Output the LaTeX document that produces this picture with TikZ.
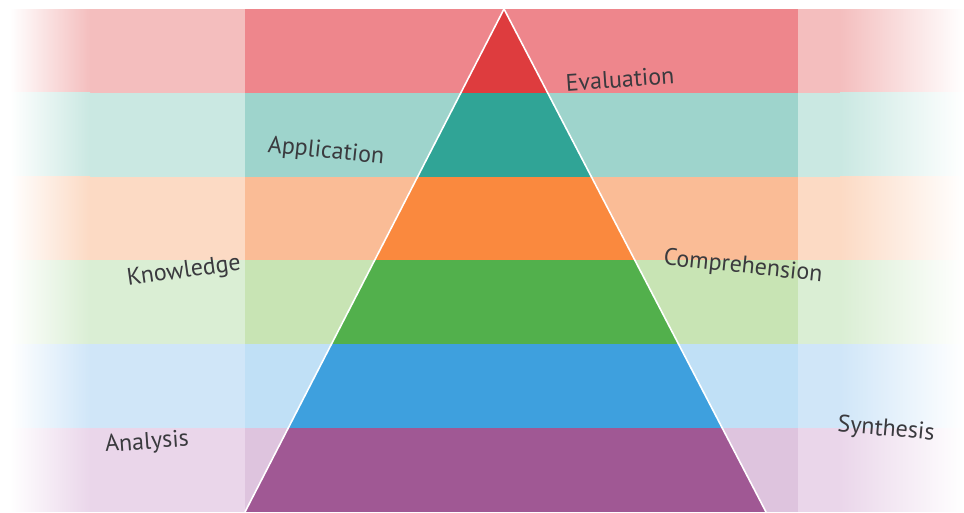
\documentclass[tikz,border=0pt]{standalone}
\usepackage{fontspec}
\setmainfont{PT Sans}

% strong / pale / outer shade of every band
\definecolor{evalstrong}{RGB}{222,60,62}
\definecolor{evalpale}{RGB}{238,134,140}
\definecolor{evalouter}{RGB}{244,190,190}
\definecolor{applstrong}{RGB}{48,164,150}
\definecolor{applpale}{RGB}{158,212,204}
\definecolor{applouter}{RGB}{202,232,226}
\definecolor{orngstrong}{RGB}{250,137,62}
\definecolor{orngpale}{RGB}{250,188,150}
\definecolor{orngouter}{RGB}{252,218,196}
\definecolor{grnstrong}{RGB}{82,176,76}
\definecolor{grnpale}{RGB}{200,228,180}
\definecolor{grnouter}{RGB}{218,238,212}
\definecolor{blustrong}{RGB}{62,160,222}
\definecolor{blupale}{RGB}{192,224,246}
\definecolor{bluouter}{RGB}{208,230,248}
\definecolor{purpstrong}{RGB}{160,88,148}
\definecolor{purppale}{RGB}{222,196,222}
\definecolor{purpouter}{RGB}{234,214,234}
\definecolor{labelgray}{RGB}{58,58,62}

\begin{document}
\begin{tikzpicture}[x=1pt, y=-1pt,
    level/.style={text=labelgray, font=\fontsize{24}{24}\selectfont, inner sep=0pt}]
    \useasboundingbox (0, 0) rectangle (964, 512);
    \fill [white] (0, 0) rectangle (964, 512);
    \coordinate (apex) at (504, 9);
    \coordinate (baseleft) at (245, 512);
    \coordinate (baseright) at (766, 512);

    % stripes behind the pyramid
    \foreach \band [count=\i from 0] in {eval, appl, orng, grn, blu, purp}
    {
        \pgfmathsetmacro{\ya}{9 + 83.83*\i}
        \pgfmathsetmacro{\yb}{9 + 83.83*(\i + 1)}
        \shade [left color=white, right color=\band outer] (10, \ya) rectangle (90, \yb);
        \fill [\band outer] (90, \ya) rectangle (245, \yb);
        \fill [\band pale] (245, \ya) rectangle (798, \yb);
        \fill [\band outer] (798, \ya) rectangle (840, \yb);
        \shade [left color=\band outer, right color=white] (840, \ya) rectangle (964, \yb);
    }

    % the pyramid
    \begin{scope}
        \clip (apex) -- (baseleft) -- (baseright) -- cycle;
        \foreach \band [count=\i from 0] in {eval, appl, orng, grn, blu, purp}
        {
            \pgfmathsetmacro{\ya}{9 + 83.83*\i}
            \pgfmathsetmacro{\yb}{9 + 83.83*(\i + 1)}
            \fill [\band strong] (200, \ya) rectangle (800, \yb);
        }
    \end{scope}
    \draw [white, line width=1.6pt] (baseleft) -- (apex) -- (baseright);

    \node [level, rotate=4] (evaluation) at (620, 79) {Evaluation};
    \node [level, rotate=-6] (application) at (326, 152) {Application};
    \node [level, rotate=8] (knowledge) at (184, 272) {Knowledge};
    \node [level, rotate=-6] (comprehension) at (743, 267) {Comprehension};
    \node [level, rotate=4] (analysis) at (147, 443) {Analysis};
    \node [level, rotate=-5] (synthesis) at (886, 430) {Synthesis};
\end{tikzpicture}
\end{document}
